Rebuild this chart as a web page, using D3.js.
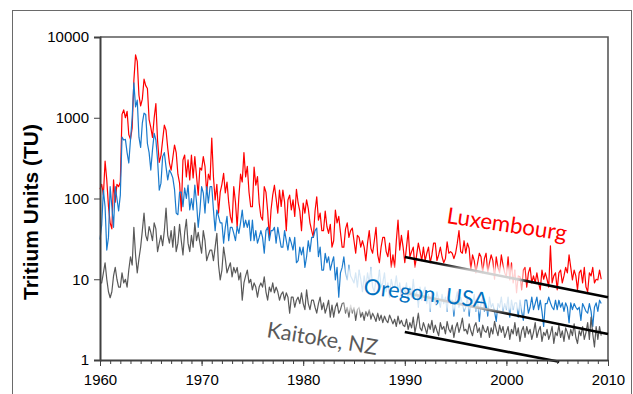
<!DOCTYPE html>
<html>
<head>
<meta charset="utf-8">
<script src="https://cdn.jsdelivr.net/npm/d3@7"></script>
<style>
  body { margin: 0; background: #fff; }
  svg { display: block; }
  .axis text { font-family: "Liberation Sans", Arial, sans-serif; font-size: 15px; fill: #000; }
  .axis path, .axis line { stroke: #404040; }
</style>
</head>
<body>
<div class="tritium"></div>
<script>
// bimonthly samples, 6 per year, starting Jan 1960
var startYear = 1960;
var perYear = 6;

var luxembourg = [
  130, 150, 110, 290, 170, 80,      // 1960
  50, 42, 170, 90, 150, 140,
  160, 1100, 1250, 1000, 1200, 620,
  540, 750, 2900, 6000, 5000, 1900,
  1400, 1700, 3000, 2500, 2300, 950,
  760, 570, 1000, 1500, 520, 280,   // 1965
  340, 530, 810, 700, 420, 275,
  225, 320, 460, 370, 200, 155,
  70, 300, 345, 185, 300, 170,
  345, 180, 330, 190, 110, 240,
  225, 330, 250, 117, 200, 170,     // 1970
  560, 185, 96, 150, 66, 120,
  150, 205, 117, 160, 90, 60,
  50, 140, 90, 44, 105, 200,
  160, 370, 185, 250, 120, 79,
  79, 245, 146, 187, 88, 60,        // 1975
  54, 140, 120, 70, 33, 72,
  110, 146, 100, 66, 127, 80,
  127, 90, 40, 96, 110, 72,
  96, 60, 130, 88, 70, 40,
  88, 66, 96, 75, 50, 40,           // 1980
  33, 70, 105, 54, 66, 40,
  40, 70, 45, 37, 48, 25,
  30, 72, 50, 60, 38, 25,
  25, 42, 50, 33, 40, 43,
  30, 21, 35, 33, 25, 30,           // 1985
  25, 17, 28, 40, 24, 21,
  30, 44, 20, 16, 25, 33,
  33, 22, 19, 28, 14, 20,
  14, 30, 54, 23, 35, 25,
  16, 25, 40, 19, 22, 25,           // 1990
  14, 20, 28, 22, 17, 25,
  17, 21, 25, 16, 20, 28,
  28, 17, 20, 25, 19, 16,
  18, 29, 21, 22, 21, 18,
  21, 28, 40, 22, 21, 30,           // 1995
  21, 28, 24, 13, 20, 17,
  12, 16, 21, 19, 12, 18,
  21, 12, 16, 20, 17, 10,
  19, 14, 12, 20, 15, 12,
  10.7, 19, 9.8, 16, 9, 13,         // 2000
  6.8, 11, 10.7, 7.4, 13, 14,
  8, 12, 14, 9, 11, 9,
  12, 9, 7.4, 13, 10, 12,
  10, 8, 26, 9, 11, 12,
  7.4, 12, 13, 9, 11, 14,           // 2005
  12, 20, 14, 9.8, 13, 11,
  7.4, 12, 13, 9, 14, 8,
  7, 12, 11, 14, 9, 10,
  9.8, 13, 10
];

var oregon = [
  31, 47, 127, 79, 23, 33,          // 1960
  140, 80, 44, 140, 100, 70,
  110, 575, 530, 540, 370, 275,
  530, 1000, 2700, 1360, 1650, 575,
  430, 860, 1140, 1100, 480, 370,
  225, 400, 640, 530, 300, 127,     // 1965
  155, 330, 370, 245, 170, 225,
  205, 180, 130, 66, 63, 120,
  120, 79, 135, 100, 147, 72,
  100, 72, 147, 90, 44, 70,
  140, 117, 66, 140, 88, 140,       // 1970
  140, 72, 40, 72, 60, 50,
  50, 28, 44, 60, 30, 44,
  44, 37, 30, 45, 37, 50,
  72, 44, 54, 44, 54, 30,
  54, 30, 40, 28, 33, 40,           // 1975
  33, 21, 40, 44, 30, 40,
  40, 44, 28, 44, 33, 25,
  25, 40, 30, 23, 33, 28,
  23, 33, 16, 17, 25, 20,
  25, 14, 19, 30, 22, 33,           // 1980
  33, 40, 43, 19, 25, 13,
  13, 21, 16, 19, 13, 16,
  19, 9.8, 14, 6, 12, 14,
  19, 12, 9.8, 15, 11, 10,
  9, 12, 8, 13, 10, 7,              // 1985
  11, 8, 12, 9, 14, 8,
  7, 10, 9, 13, 8, 9,
  12, 7, 9, 6, 10, 8,
  8, 11, 7, 9, 6, 8,
  7, 9, 5.5, 8, 6, 10,              // 1990
  6, 7, 4.5, 8, 5.5, 7,
  8, 5, 6.5, 4, 7, 6,
  5, 7, 5.5, 4.5, 6.5, 5,
  6, 4, 7, 5, 5.5, 3.5,
  5.5, 7, 4.5, 6, 5, 4,             // 1995
  4.5, 6, 3.5, 5.5, 5, 6.5,
  4, 5.5, 3, 5, 6, 4,
  5, 3.5, 6, 4.5, 5, 4,
  3, 5, 4.5, 6, 4, 5,
  4.2, 6, 3.4, 5.5, 4.2, 5.1,       // 2000
  5.1, 3.4, 5.5, 4, 3.1, 5.5,
  5.5, 3.8, 4.5, 6, 4.2, 5,
  6, 4.2, 5.5, 4, 2.6, 5,
  5, 6, 5.1, 4.5, 4.2, 5.5,
  4.2, 5.5, 4.5, 5.1, 4, 5.1,       // 2005
  4.5, 2.9, 5.1, 4.2, 5, 4.5,
  4.2, 4.5, 3.1, 5, 4.5, 4,
  3.8, 5, 4, 2.6, 4.5, 5.1,
  4, 5.5, 5
];

var kaitoke = [
  9, 9, 12, 16, 10, 7,              // 1960
  5.9, 7, 11, 14, 10, 8,
  8, 12, 9, 10, 8, 13,
  19, 15, 44, 20, 12, 18,
  25, 40, 66, 35, 30, 45,
  38, 30, 50, 42, 22, 28,           // 1965
  35, 26, 40, 76, 35, 28,
  40, 25, 45, 22, 28, 48,
  30, 20, 38, 55, 28, 22,
  35, 25, 50, 30, 38, 28,
  21, 40, 30, 17, 20, 23,           // 1970
  23, 17, 25, 37, 15, 9.8,
  13, 25, 18, 12, 14, 16,
  10.7, 14, 12, 14, 9.8, 12,
  5.5, 9, 11, 13, 9, 10,
  7.4, 9, 8, 6, 8, 9,               // 1975
  8, 10.7, 7, 5.5, 8, 7,
  9, 6.8, 8, 7, 5.5, 6.5,
  7, 5.5, 6.8, 6, 3.8, 6,
  6, 4.5, 5.5, 6, 5, 6.8,
  5, 4.2, 7.4, 5, 4.2, 5.5,         // 1980
  5.5, 4.5, 3.8, 5, 6, 4.2,
  5.1, 3.8, 4.5, 5.5, 3.4, 4.8,
  3.4, 4.5, 5.1, 3.8, 4.2, 5,
  5.1, 3.8, 4.5, 3.4, 4.8, 3.8,
  4.5, 3.1, 4.2, 4.5, 3.4, 3.9,     // 1985
  3.1, 4, 3.5, 4.2, 3.2, 3.8,
  3.4, 3, 3.8, 3.1, 3.6, 2.9,
  3.5, 3.1, 2.9, 3.6, 3.2, 2.8,
  3.2, 2.6, 3.5, 2.8, 3.1, 2.7,
  2.6, 3.2, 2.4, 2.9, 2.5, 3.4,     // 1990
  2.2, 2.8, 3.8, 2.5, 2.3, 2.9,
  2.5, 2.1, 2.8, 2.4, 3.1, 2.2,
  2.7, 2.3, 2, 2.9, 2.4, 2.6,
  2.1, 3, 2.4, 2.2, 2.7, 1.9,
  2.5, 2.9, 2.2, 2.6, 3.3, 2.3,     // 1995
  2.4, 2.1, 2.8, 2.3, 2, 2.6,
  2.9, 2.2, 2.5, 1.9, 2.7, 2.3,
  2.2, 2.6, 1.9, 2.5, 2.1, 3.0,
  2.4, 2.0, 2.7, 2.2, 2.6, 1.9,
  2.2, 2.6, 1.8, 2.4, 2.1, 2.9,     // 2000
  2.0, 2.5, 1.7, 2.3, 2.6, 1.9,
  2.6, 2.1, 2.4, 1.8, 2.2, 2.9,
  1.9, 2.3, 2.6, 1.7, 2.2, 2.0,
  2.4, 1.8, 2.1, 2.6, 1.6, 2.2,
  2.0, 2.7, 1.9, 2.3, 1.7, 2.5,     // 2005
  2.2, 1.8, 2.4, 2.0, 2.8, 1.9,
  1.6, 2.3, 2.0, 2.6, 1.8, 2.2,
  2.9, 1.8, 3.4, 2.1, 1.45, 2.6,
  1.8, 2.6, 2.0
];

// decay trend lines [year, TU]
var luxTrend = [[1990, 18.9], [2010, 6.0]];
var oregonTrend = [[1990, 6.8], [2010, 2.1]];
var kaitokeTrend = [[1990, 2.22], [2005.2, 0.95]];

var yTicks = [1, 10, 100, 1000, 10000];
var xMajor = [1960, 1970, 1980, 1990, 2000, 2010];
var xMinor = d3.range(1960, 2011, 1);

var width = 633, height = 394;
var margin = {left: 100, right: 25, top: 37, bottom: 34};

var svg = d3.select("div.tritium").append("svg")
    .attr("width", width)
    .attr("height", height);

// outer frame of the figure
svg.append("rect")
    .attr("x", 12.5).attr("y", 10.5)
    .attr("width", 619).attr("height", 420)
    .attr("fill", "none")
    .attr("stroke", "#6a6a6a")
    .attr("stroke-width", 1);

var x = d3.scaleLinear().domain([1960, 2010]).range([margin.left, width - margin.right]);
var y = d3.scaleLog().domain([1, 10000]).range([height - margin.bottom, margin.top]);

// top and right border of the plot
svg.append("path")
    .attr("d", "M" + x(1960) + "," + y(10000) + "H" + x(2010) + "V" + y(1))
    .attr("fill", "none")
    .attr("stroke", "#595959")
    .attr("stroke-width", 1.6);

var line = d3.line()
    .x((d, i) => x(startYear + i / perYear))
    .y(d => y(d));

var series = [
  {name: "Luxembourg", values: luxembourg, color: "#ff0000"},
  {name: "Oregon", values: oregon, color: "#1a7acc"},
  {name: "Kaitoke", values: kaitoke, color: "#595959"}
];

svg.selectAll("path.series").data(series)
    .enter()
    .append("path")
    .attr("class", "series")
    .attr("d", d => line(d.values))
    .attr("fill", "none")
    .attr("stroke", d => d.color)
    .attr("stroke-width", 1.2)
    .attr("stroke-linejoin", "round");

var trendLine = d3.line().x(d => x(d[0])).y(d => y(d[1]));
svg.selectAll("path.trend").data([luxTrend, oregonTrend, kaitokeTrend])
    .enter()
    .append("path")
    .attr("class", "trend")
    .attr("d", d => trendLine(d))
    .attr("fill", "none")
    .attr("stroke", "#000")
    .attr("stroke-width", 2.6);

// axes
var yAxis = svg.append("g")
    .attr("class", "axis y")
    .attr("transform", "translate(" + margin.left + ",0)")
    .call(d3.axisLeft(y).tickValues(yTicks).tickFormat(d3.format("d")).tickSize(6).tickPadding(5));
yAxis.select(".domain").attr("stroke-width", 2);

var xMinorAxis = svg.append("g")
    .attr("class", "axis x minor")
    .attr("transform", "translate(0," + y(1) + ")")
    .call(d3.axisBottom(x).tickValues(xMinor).tickFormat("").tickSize(4).tickSizeOuter(0));
xMinorAxis.select(".domain").attr("stroke-width", 2);

svg.append("g")
    .attr("class", "axis x")
    .attr("transform", "translate(0," + y(1) + ")")
    .call(d3.axisBottom(x).tickValues(xMajor).tickFormat(d3.format("d")).tickSize(6).tickPadding(8))
    .select(".domain").remove();

// y title
var title = svg.append("text")
    .attr("transform", "translate(38,212) rotate(-90)")
    .attr("text-anchor", "middle")
    .style("font-family", "'Liberation Sans', Arial, sans-serif")
    .style("font-weight", "bold")
    .style("font-size", "19px")
    .text("Tritium Units (TU)");
fitWidth(title, 176, 19);

// frosted box behind the Oregon label
var defs = svg.append("defs");
defs.append("filter").attr("id", "soft")
    .attr("x", "-10%").attr("y", "-30%").attr("width", "120%").attr("height", "160%")
    .append("feGaussianBlur").attr("stdDeviation", 2.5);

svg.append("rect")
    .attr("x", 345).attr("y", 267)
    .attr("width", 178).attr("height", 44)
    .attr("fill", "#fff")
    .attr("opacity", 0.82)
    .attr("filter", "url(#soft)");

var labels = [
  {text: "Luxembourg", x: 446, y: 223, angle: 8.5, color: "#ff0000", len: 121},
  {text: "Oregon, USA", x: 363, y: 294, angle: 6.5, color: "#0070c0", len: 125},
  {text: "Kaitoke, NZ", x: 266, y: 337, angle: 9.3, color: "#595959", len: 112}
];

svg.selectAll("text.label").data(labels)
    .enter()
    .append("text")
    .attr("class", "label")
    .attr("transform", d => "translate(" + d.x + "," + d.y + ") rotate(" + d.angle + ")")
    .style("font-family", "Lato, 'Open Sans', sans-serif")
    .style("font-size", "24px")
    .attr("fill", d => d.color)
    .text(d => d.text)
    .each(function(d) { fitWidth(d3.select(this), d.len, 24); });

function fitWidth(sel, target, size) {
    var w = sel.node().getComputedTextLength();
    if (w > 0) sel.style("font-size", (size * target / w).toFixed(2) + "px");
}
</script>
</body>
</html>
